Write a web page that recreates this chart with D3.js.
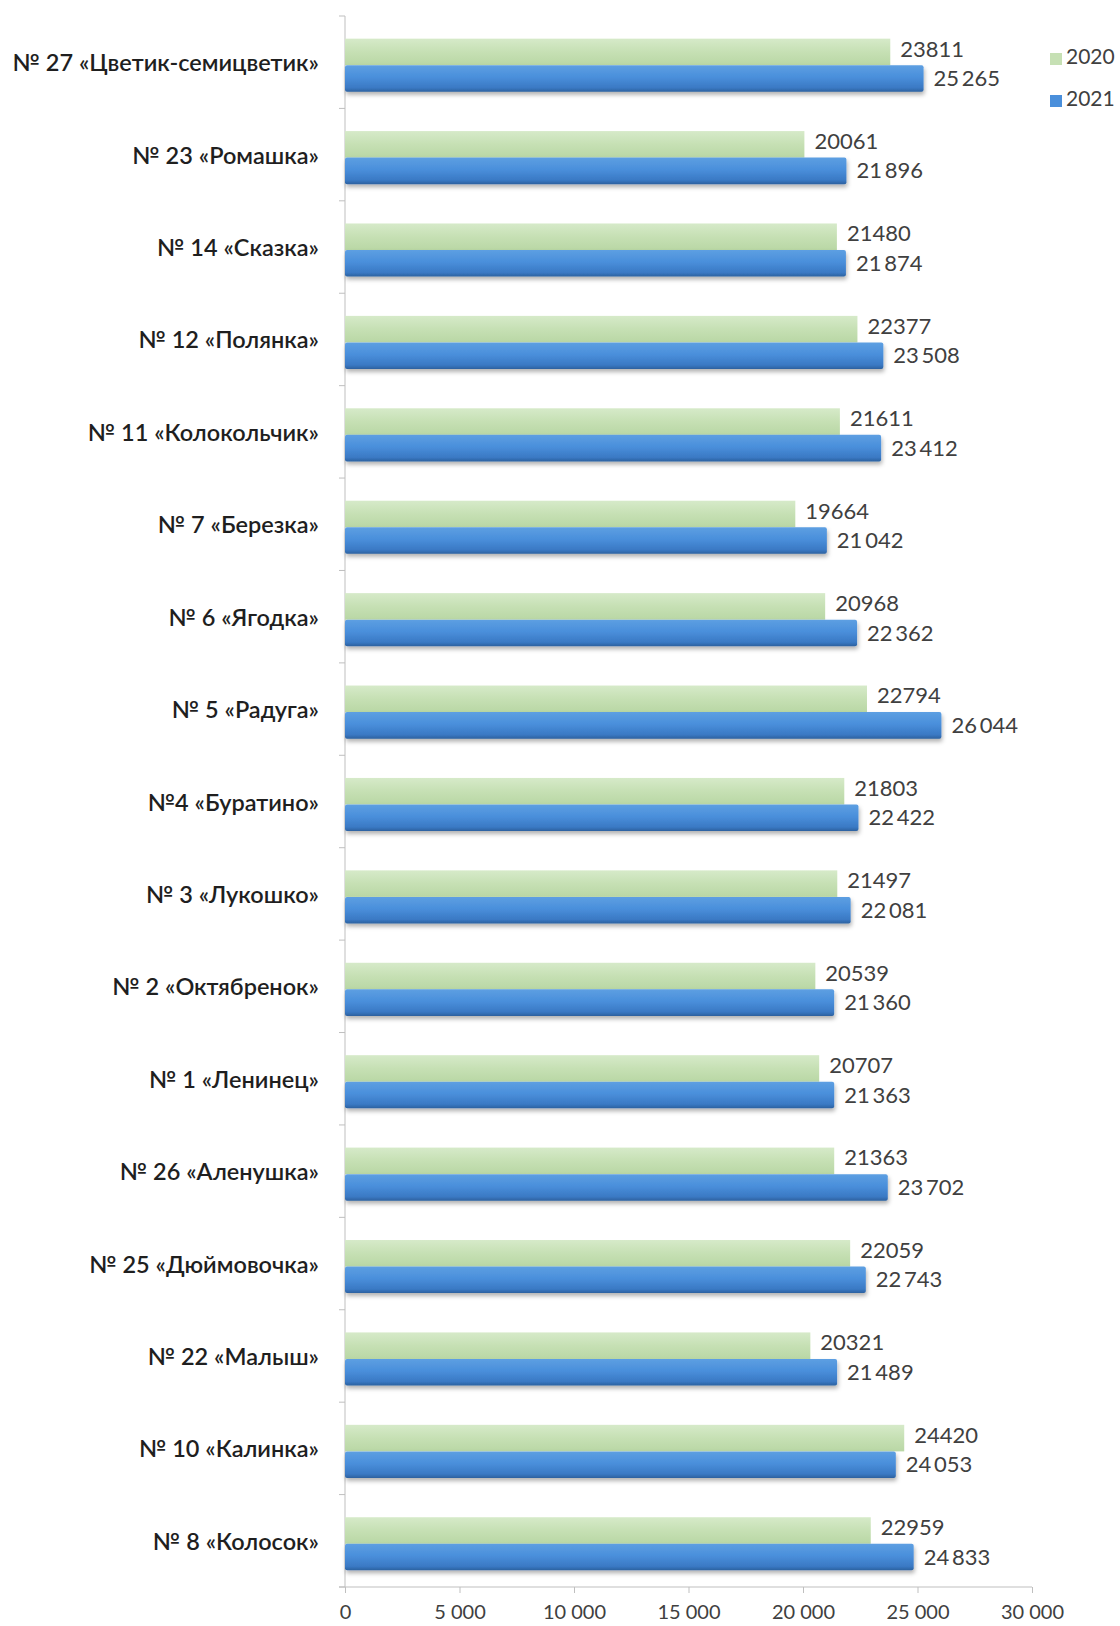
<!DOCTYPE html>
<html><head><meta charset="utf-8">
<script src="https://cdn.jsdelivr.net/npm/d3@7"></script>
<style>
html,body{margin:0;padding:0;background:#fff;}
svg{display:block;}
</style></head>
<body>
<svg id="chart" width="1120" height="1626"></svg>
<script>
const categories = ["№ 27 «Цветик-семицветик»", "№ 23 «Ромашка»", "№ 14 «Сказка»", "№ 12 «Полянка»", "№ 11 «Колокольчик»", "№ 7 «Березка»", "№ 6 «Ягодка»", "№ 5 «Радуга»", "№4 «Буратино»", "№ 3 «Лукошко»", "№ 2 «Октябренок»", "№ 1 «Ленинец»", "№ 26 «Аленушка»", "№ 25 «Дюймовочка»", "№ 22 «Малыш»", "№ 10 «Калинка»", "№ 8 «Колосок»"];
const values2020 = [23811, 20061, 21480, 22377, 21611, 19664, 20968, 22794, 21803, 21497, 20539, 20707, 21363, 22059, 20321, 24420, 22959];
const values2021 = [25265, 21896, 21874, 23508, 23412, 21042, 22362, 26044, 22422, 22081, 21360, 21363, 23702, 22743, 21489, 24053, 24833];
const seriesNames = ["2020", "2021"];
const xTicks = [0, 5000, 10000, 15000, 20000, 25000, 30000];

(function(){
const svg = d3.select("#chart");
const mLeft = 345, mRight = 1032, mTop = 16, mBottom = 1587;
const x = d3.scaleLinear().domain([0, 30000]).range([mLeft, mRight]);
const y = d3.scaleBand().domain(categories).range([mTop, mBottom]).paddingInner(0).paddingOuter(0);
const barOffset = 3;
const sub = d3.scaleBand().domain(seriesNames).range([barOffset, y.bandwidth() + barOffset]).paddingInner(0).paddingOuter(0.74);

const defs = svg.append("defs");
const gG = defs.append("linearGradient").attr("id","gGreen").attr("x1",0).attr("y1",0).attr("x2",0).attr("y2",1);
gG.append("stop").attr("offset","0%").attr("stop-color","#d6eac9");
gG.append("stop").attr("offset","50%").attr("stop-color","#c6e0b4");
gG.append("stop").attr("offset","100%").attr("stop-color","#b9d7a5");
const gB = defs.append("linearGradient").attr("id","gBlue").attr("x1",0).attr("y1",0).attr("x2",0).attr("y2",1);
gB.append("stop").attr("offset","0%").attr("stop-color","#5d9fe2");
gB.append("stop").attr("offset","45%").attr("stop-color","#4a8fdb");
gB.append("stop").attr("offset","85%").attr("stop-color","#3a79c4");
gB.append("stop").attr("offset","100%").attr("stop-color","#2c619f");
const f = defs.append("filter").attr("id","shadow").attr("x","-5%").attr("y","-30%").attr("width","110%").attr("height","170%");
f.append("feDropShadow").attr("dx",1).attr("dy",3).attr("stdDeviation",2).attr("flood-color","#000").attr("flood-opacity",0.3);

const font = "Lato, 'Open Sans', sans-serif";

const xAxis = d3.axisBottom(x).tickValues(xTicks).tickSize(6).tickSizeOuter(0)
  .tickFormat(d => d3.format(",")(d).replace(/,/g, " "));
const gx = svg.append("g").attr("transform", `translate(0,${mBottom})`).call(xAxis);
gx.select(".domain").attr("stroke","#bfbfbf").attr("d", `M${mLeft-6},0H${mRight}`);
gx.selectAll(".tick line").attr("stroke","#bfbfbf");
gx.selectAll(".tick text").attr("font-family",font).attr("font-size",20).attr("fill","#404040").attr("dy","1.15em");

const gy = svg.append("g").attr("transform", `translate(${mLeft},0)`);
gy.append("line").attr("x1",0).attr("x2",0).attr("y1",mTop).attr("y2",mBottom).attr("stroke","#bfbfbf");
const bounds = categories.map(c => y(c)).concat([mBottom]);
gy.selectAll("line.tk").data(bounds).join("line").attr("class","tk")
  .attr("x1",-6).attr("x2",0).attr("y1",d=>d).attr("y2",d=>d).attr("stroke","#bfbfbf");
gy.selectAll("text.cat").data(categories).join("text").attr("class","cat")
  .attr("x",-26).attr("y",d => y(d) + y.bandwidth()/2 + 3).attr("text-anchor","end").attr("dominant-baseline","middle")
  .attr("font-family",font).attr("font-size",23.5).attr("font-weight",600).attr("fill","#1f1f1f").text(d=>d);

const rows = categories.map((c,i) => ({c, v:[values2020[i], values2021[i]]}));
const grp = svg.append("g").selectAll("g").data(rows).join("g").attr("transform", d => `translate(0,${y(d.c)})`);
grp.append("rect").attr("x", x(0)).attr("y", sub("2020")).attr("width", d => x(d.v[0]) - x(0)).attr("height", sub.bandwidth())
  .attr("fill","url(#gGreen)");
grp.append("rect").attr("x", x(0)).attr("y", sub("2021")).attr("width", d => x(d.v[1]) - x(0)).attr("height", sub.bandwidth())
  .attr("rx",2).attr("fill","url(#gBlue)").attr("filter","url(#shadow)");
grp.append("text").attr("x", d => x(d.v[0]) + 10).attr("y", sub("2020") + sub.bandwidth()/2 - 1)
  .attr("dominant-baseline","middle").attr("font-family",font).attr("font-size",22).attr("fill","#404040")
  .text(d => String(d.v[0]));
grp.append("text").attr("x", d => x(d.v[1]) + 10).attr("y", sub("2021") + sub.bandwidth()/2 + 2)
  .attr("dominant-baseline","middle").attr("font-family",font).attr("font-size",22).attr("fill","#404040")
  .text(d => d3.format(",")(d.v[1]).replace(/,/g, "\u2009"));

const legend = svg.append("g").selectAll("g").data(seriesNames).join("g")
  .attr("transform", (d,i) => `translate(1050,${59 + i*42})`);
legend.append("rect").attr("x",0).attr("y",-6).attr("width",12).attr("height",12)
  .attr("fill", (d,i) => i === 0 ? "#c6e0b4" : "#4a8fdb");
legend.append("text").attr("x",16).attr("y",0).attr("dominant-baseline","middle")
  .attr("font-family",font).attr("font-size",21).attr("fill","#404040").text(d=>d);
})();
</script>
</body></html>
